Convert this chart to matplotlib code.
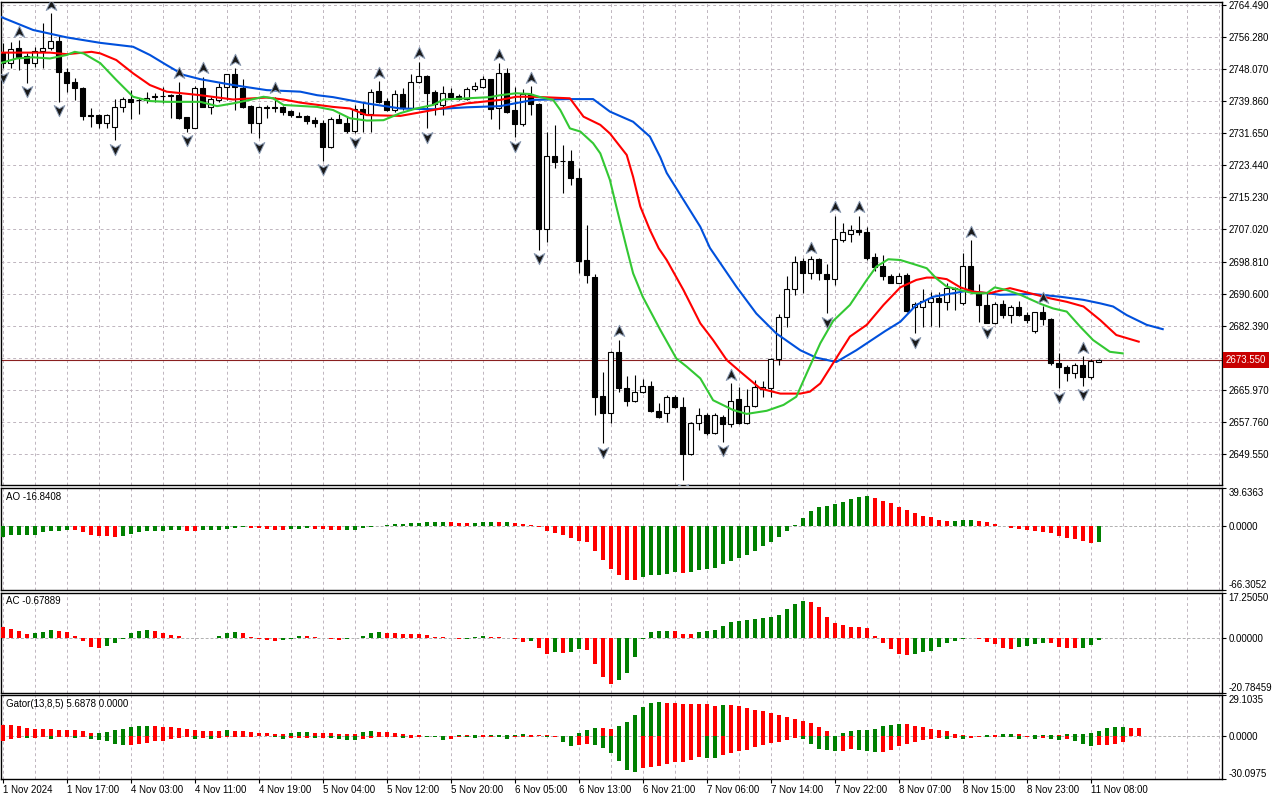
import numpy as np
import matplotlib
matplotlib.use("Agg")
from matplotlib import pyplot as plt
from matplotlib.path import Path
from matplotlib.transforms import blended_transform_factory

plt.rcParams['font.family'] = ['Liberation Sans', 'DejaVu Sans']
plt.rcParams['font.size'] = 7

# ---- XAUUSD H1 candles ----
opens = [2752.1, 2749.6, 2753.4, 2751.4, 2749.7, 2752.8, 2753.6, 2755.3, 2747.4, 2744.9,
         2743.2, 2736.4, 2736.3, 2734.2, 2733.3, 2738.3, 2740.4, 2740.2, 2740.2, 2741.0,
         2741.2, 2741.4, 2741.4, 2735.7, 2733.1, 2743.2, 2738.5, 2740.2, 2743.4, 2746.8,
         2743.2, 2738.6, 2734.2, 2738.5, 2738.3, 2738.3, 2737.3, 2736.0, 2736.1, 2735.0,
         2734.2, 2728.2, 2735.3, 2734.4, 2732.3, 2737.9, 2736.5, 2742.6, 2740.0, 2737.6,
         2741.6, 2738.0, 2744.8, 2746.3, 2742.1, 2738.8, 2741.9, 2741.2, 2740.4, 2742.9,
         2743.4, 2745.5, 2738.0, 2747.0, 2737.5, 2734.0, 2741.6, 2739.1, 2707.1, 2725.8,
         2724.6, 2724.6, 2720.1, 2699.2, 2694.9, 2664.4, 2660.0, 2675.7, 2666.4, 2663.2,
         2665.5, 2667.0, 2660.6, 2660.0, 2664.2, 2661.5, 2649.5, 2657.4, 2659.5, 2654.8,
         2659.1, 2657.1, 2663.5, 2657.6, 2661.8, 2666.3, 2666.4, 2673.9, 2684.5, 2691.9,
         2699.0, 2695.8, 2699.4, 2695.5, 2694.3, 2704.3, 2705.8, 2706.9, 2706.3, 2699.9,
         2697.7, 2695.2, 2693.4, 2695.4, 2687.3, 2687.3, 2688.5, 2689.6, 2688.5, 2691.9,
         2688.1, 2697.7, 2690.7, 2687.7, 2683.2, 2687.9, 2685.1, 2687.3, 2685.1, 2680.9,
         2685.8, 2684.0, 2672.9, 2671.9, 2670.4, 2672.3, 2669.3, 2673.2]
highs = [2754.8, 2755.1, 2755.5, 2752.1, 2753.8, 2759.8, 2762.4, 2756.8, 2748.3, 2745.7,
         2743.4, 2738.0, 2736.7, 2736.7, 2740.3, 2741.0, 2742.7, 2740.6, 2742.3, 2741.9,
         2743.6, 2741.7, 2744.9, 2735.9, 2743.7, 2746.1, 2741.0, 2744.4, 2746.8, 2748.3,
         2745.5, 2738.9, 2738.6, 2738.9, 2741.0, 2738.6, 2737.6, 2737.2, 2736.3, 2735.9,
         2735.0, 2735.9, 2736.7, 2735.9, 2738.9, 2739.7, 2742.9, 2745.0, 2740.6, 2742.7,
         2743.2, 2746.8, 2750.0, 2746.6, 2742.7, 2743.7, 2743.2, 2741.7, 2743.4, 2744.9,
         2746.3, 2745.6, 2749.6, 2748.3, 2743.4, 2742.9, 2743.7, 2739.3, 2732.1, 2733.8,
         2728.6, 2727.4, 2722.7, 2708.2, 2695.5, 2670.6, 2675.9, 2678.7, 2669.5, 2669.8,
         2668.7, 2668.1, 2662.5, 2664.6, 2664.6, 2664.1, 2657.8, 2661.2, 2660.0, 2660.0,
         2659.5, 2667.6, 2666.8, 2666.2, 2668.5, 2668.3, 2674.0, 2685.4, 2695.1, 2700.2,
         2699.7, 2700.2, 2699.6, 2698.2, 2710.5, 2708.8, 2708.2, 2710.5, 2707.7, 2700.9,
         2700.5, 2695.6, 2695.8, 2695.8, 2688.5, 2691.7, 2691.1, 2691.1, 2693.2, 2692.2,
         2701.1, 2704.2, 2693.1, 2690.7, 2688.5, 2689.0, 2687.7, 2688.8, 2686.0, 2686.0,
         2687.4, 2684.3, 2675.3, 2672.3, 2672.9, 2674.5, 2673.8, 2673.9]
lows = [2748.3, 2748.3, 2747.8, 2744.6, 2748.7, 2748.3, 2753.0, 2739.7, 2742.3, 2740.2,
        2735.0, 2733.3, 2732.9, 2733.1, 2729.9, 2737.0, 2735.2, 2736.7, 2739.3, 2739.7,
        2739.3, 2735.5, 2735.2, 2732.1, 2732.9, 2738.3, 2736.5, 2739.7, 2740.2, 2737.6,
        2738.0, 2731.8, 2730.4, 2735.5, 2737.2, 2736.3, 2735.7, 2735.7, 2734.0, 2733.3,
        2724.6, 2727.8, 2734.2, 2731.8, 2731.6, 2732.1, 2732.1, 2739.3, 2737.4, 2737.2,
        2737.6, 2737.6, 2744.4, 2732.9, 2736.3, 2736.3, 2740.2, 2740.2, 2740.2, 2742.6,
        2743.2, 2735.2, 2732.7, 2736.9, 2730.6, 2733.5, 2736.3, 2701.8, 2703.9, 2722.7,
        2716.4, 2718.4, 2695.8, 2693.3, 2659.5, 2652.3, 2657.6, 2665.5, 2661.7, 2662.9,
        2665.1, 2660.4, 2658.7, 2657.8, 2661.2, 2642.9, 2649.3, 2655.7, 2654.4, 2654.7,
        2652.7, 2656.5, 2657.2, 2657.2, 2661.5, 2664.2, 2664.2, 2672.3, 2682.1, 2690.2,
        2690.7, 2694.3, 2694.1, 2685.6, 2692.8, 2703.7, 2703.9, 2705.6, 2699.2, 2696.5,
        2694.1, 2693.2, 2693.2, 2686.0, 2680.4, 2682.0, 2682.2, 2682.0, 2686.4, 2686.4,
        2687.7, 2690.7, 2683.4, 2683.0, 2682.8, 2684.3, 2683.2, 2684.9, 2683.0, 2680.4,
        2682.6, 2672.3, 2666.4, 2668.1, 2668.9, 2667.0, 2668.7, 2673.1]
closes = [2749.6, 2753.1, 2751.3, 2749.6, 2752.8, 2753.6, 2755.3, 2747.3, 2744.6, 2743.2,
          2736.2, 2736.2, 2734.2, 2736.3, 2738.3, 2740.4, 2739.7, 2740.1, 2740.8, 2741.1,
          2741.3, 2741.3, 2735.5, 2733.1, 2743.2, 2738.5, 2740.5, 2743.4, 2746.7, 2743.6,
          2738.5, 2734.2, 2738.3, 2738.0, 2738.2, 2737.2, 2736.3, 2735.9, 2734.9, 2734.2,
          2728.2, 2735.2, 2734.4, 2732.3, 2737.9, 2736.5, 2742.3, 2739.7, 2737.6, 2741.6,
          2738.0, 2744.8, 2746.3, 2742.0, 2739.1, 2741.9, 2741.0, 2740.4, 2742.9, 2743.7,
          2745.5, 2737.9, 2747.0, 2737.2, 2734.0, 2741.6, 2739.1, 2707.1, 2725.8, 2724.4,
          2724.5, 2720.1, 2699.0, 2695.4, 2664.2, 2660.0, 2675.7, 2666.4, 2663.2, 2665.5,
          2667.0, 2660.6, 2658.9, 2664.2, 2661.5, 2649.5, 2657.4, 2659.4, 2654.8, 2659.5,
          2657.1, 2663.2, 2657.6, 2661.8, 2666.6, 2666.8, 2673.9, 2684.5, 2691.9, 2698.8,
          2695.8, 2699.4, 2695.8, 2694.3, 2704.5, 2706.3, 2706.9, 2706.3, 2699.8, 2697.5,
          2695.2, 2693.4, 2695.2, 2686.2, 2687.9, 2688.8, 2689.6, 2688.5, 2692.1, 2691.8,
          2697.7, 2691.5, 2687.6, 2683.2, 2687.9, 2685.1, 2687.3, 2685.1, 2683.8, 2685.8,
          2684.0, 2672.9, 2671.9, 2670.4, 2672.3, 2669.3, 2673.4, 2673.55]

# fractal bars
fractal_up = [2, 6, 22, 25, 29, 34, 47, 52, 62, 66, 77, 91, 101, 104, 107, 121, 130, 135]
fractal_down = [0, 3, 7, 14, 23, 32, 40, 44, 53, 64, 67, 75, 85, 90, 103, 114, 123, 132, 135]

# Alligator lines (bar position, price)
jaw_x = [-0.3, 3.8, 8.0, 12.2, 16.3, 18.4, 20.5, 22.6, 24.7, 28.8, 33.0, 37.2, 39.3, 41.3, 45.5,
         49.7, 53.8, 58.0, 62.2, 66.3, 70.5, 73.8, 75.9, 78.8, 80.9, 82.2, 83.0, 85.1, 87.2, 88.4,
         91.7, 94.2, 96.7, 99.7, 101.7, 104.2, 106.7, 110.3, 112.2, 114.2, 116.3, 120.5, 124.7,
         128.8, 132.2, 135.1, 137.2, 138.8, 140.5, 143.0, 145.0]
jaw_y = [2761.5, 2758.1, 2756.2, 2754.8, 2753.8, 2751.7, 2749.1, 2746.6, 2745.5, 2744.0, 2742.7,
         2742.3, 2741.4, 2740.9, 2739.3, 2738.0, 2737.8, 2738.3, 2738.6, 2740.2, 2740.4, 2740.4,
         2737.2, 2734.6, 2730.8, 2725.5, 2721.5, 2714.6, 2707.7, 2702.3, 2692.4, 2685.5, 2680.4,
         2676.1, 2674.2, 2673.1, 2676.1, 2681.0, 2683.4, 2687.7, 2689.8, 2691.3, 2690.3, 2690.5,
         2689.8, 2689.0, 2688.1, 2687.3, 2685.1, 2682.6, 2681.5]
teeth_x = [-0.3, 5.9, 8.0, 11.1, 12.2, 14.2, 16.3, 18.4, 20.5, 24.7, 28.8, 33.0, 35.1, 37.2, 41.3,
           43.4, 45.5, 49.7, 53.8, 58.0, 62.2, 64.2, 66.3, 70.9, 72.6, 74.7, 75.9, 78.0, 78.8, 79.7,
           80.9, 82.0, 83.0, 85.1, 87.2, 88.8, 90.5, 92.2, 94.7, 97.2, 99.7, 100.9, 102.2, 103.8,
           105.9, 108.0, 110.1, 112.2, 114.2, 115.5, 116.7, 118.0, 119.7, 121.3, 123.4, 125.9,
           128.8, 130.9, 133.0, 135.1, 137.2, 139.2, 142.0]
teeth_y = [2752.3, 2752.3, 2751.9, 2752.5, 2752.1, 2750.4, 2747.0, 2744.0, 2742.3, 2741.4, 2740.3,
           2740.8, 2740.3, 2739.5, 2738.4, 2738.0, 2736.3, 2736.1, 2737.6, 2739.3, 2740.2, 2741.0,
           2741.0, 2740.6, 2735.9, 2733.8, 2731.6, 2726.1, 2720.5, 2712.9, 2706.9, 2702.2, 2699.2,
           2691.5, 2683.0, 2678.7, 2673.6, 2670.6, 2666.3, 2665.0, 2665.0, 2665.5, 2667.6, 2672.8,
           2679.6, 2682.6, 2687.7, 2692.2, 2694.1, 2694.7, 2694.7, 2694.3, 2692.2, 2691.1, 2690.7,
           2692.0, 2690.5, 2689.4, 2688.5, 2687.3, 2683.8, 2680.0, 2678.3]
lips_x = [-0.3, 1.75, 3.8, 5.9, 8.0, 9.0, 10.1, 12.2, 14.2, 16.3, 18.4, 20.5, 24.7, 26.8, 28.8,
          30.9, 32.6, 33.8, 35.1, 39.3, 41.3, 43.4, 45.5, 47.6, 49.7, 51.7, 53.8, 55.1, 58.0, 60.9,
          62.2, 64.2, 65.9, 67.2, 68.8, 69.7, 70.9, 72.2, 73.8, 74.7, 75.9, 76.7, 78.0, 78.8, 80.0,
          82.2, 84.2, 85.5, 87.2, 88.8, 91.3, 93.0, 95.5, 97.6, 99.2, 100.5, 102.2, 103.8, 105.9,
          108.0, 109.2, 110.7, 112.2, 113.8, 115.5, 116.7, 118.0, 119.7, 121.3, 123.0, 124.0,
          125.5, 127.2, 129.7, 131.3, 133.0, 134.7, 136.3, 138.4, 140.0]
lips_y = [2749.6, 2750.8, 2751.1, 2750.8, 2751.7, 2752.5, 2752.1, 2749.6, 2745.3, 2741.0, 2739.9,
          2739.7, 2739.7, 2738.6, 2739.3, 2740.2, 2741.0, 2740.6, 2738.9, 2738.4, 2737.6, 2735.5,
          2734.9, 2735.0, 2736.8, 2738.0, 2738.9, 2740.3, 2740.6, 2740.9, 2741.4, 2741.9, 2741.7,
          2740.9, 2740.2, 2737.6, 2732.9, 2732.1, 2729.1, 2726.5, 2719.7, 2712.9, 2702.2, 2695.8,
          2689.8, 2681.3, 2674.0, 2671.9, 2668.9, 2663.3, 2660.8, 2659.8, 2660.6, 2662.1, 2664.2,
          2670.2, 2677.9, 2683.6, 2687.7, 2694.1, 2697.5, 2699.4, 2699.2, 2698.2, 2697.1, 2694.5,
          2692.4, 2691.5, 2690.7, 2690.7, 2692.2, 2691.5, 2690.3, 2688.0, 2686.8, 2686.0, 2682.1,
          2678.7, 2675.7, 2675.3]

# Awesome Oscillator
ao = [-11.3, -9.6, -8.9, -8.8, -8.7, -6.5, -4.8, -4.7, -3.8, -3.9,
      -6.2, -8.9, -9.9, -10.6, -11.7, -10.6, -8.2, -6.5, -5.5, -4.8,
      -4.7, -4.5, -3.8, -4.8, -4.9, -4.5, -4.4, -4.3, -2.7, -1.4,
      -1.3, -1.4, -1.5, -2.7, -3.8, -3.9, -2.7, -2.6, -2.0, -2.7,
      -3.1, -3.8, -3.9, -3.8, -3.7, -1.4, -0.7, -0.1, 1.0, 2.1,
      2.7, 3.1, 3.4, 4.5, 4.6, 4.7, 4.5, 3.4, 3.1, 3.4,
      4.1, 4.5, 4.4, 4.6, 3.1, 2.1, 1.0, -0.7, -5.5, -7.2,
      -9.6, -12.7, -15.1, -16.8, -26.1, -35.3, -44.2, -50.7, -55.9, -56.0,
      -52.4, -51.1, -51.0, -50.0, -48.0, -48.3, -47.9, -45.6, -44.2, -43.2,
      -39.8, -35.7, -32.9, -29.5, -25.4, -20.9, -16.8, -11.7, -5.5, 1.0,
      8.6, 15.8, 19.5, 21.3, 23.0, 25.4, 27.8, 30.2, 31.2, 28.8,
      26.4, 23.7, 19.9, 16.5, 13.4, 11.0, 9.3, 6.5, 5.5, 5.6,
      6.5, 6.9, 5.5, 4.5, 2.4, -0.2, -1.4, -3.1, -4.5, -5.5,
      -6.5, -7.2, -10.6, -12.7, -13.4, -15.8, -17.6, -16.84]

# Accelerator Oscillator
ac = [4.2, 3.5, 2.8, 1.65, 2.0, 2.4, 3.2, 2.8, 2.5, 0.9,
      -0.9, -3.2, -3.5, -2.8, -1.6, -0.1, 2.2, 2.8, 3.2, 2.8,
      1.9, 1.3, 0.9, 0.25, 0.05, -0.05, 0.25, 0.9, 2.2, 2.4,
      1.9, 0.6, -0.25, -0.6, -0.9, -0.6, -0.1, 0.9, 0.8, 0.5,
      0.1, -0.25, -0.5, -0.25, 0.25, 0.9, 1.9, 2.4, 2.2, 1.9,
      1.65, 1.6, 1.5, 1.3, 0.6, 0.4, 0.0, -0.4, -0.1, 0.4,
      0.9, 0.4, 0.35, 0.25, -0.4, -1.3, -0.9, -3.5, -6.0, -5.3,
      -5.45, -5.2, -4.2, -4.4, -9.8, -14.6, -17.4, -15.8, -13.1, -7.0,
      -0.3, 2.4, 2.8, 2.85, 2.7, 1.65, 1.6, 2.4, 2.8, 3.2,
      4.8, 6.3, 6.7, 7.0, 7.35, 7.6, 8.0, 8.9, 11.2, 12.9,
      14.2, 13.8, 12.0, 8.2, 5.7, 5.1, 4.3, 4.25, 4.0, 0.9,
      -1.9, -4.2, -6.0, -6.2, -6.1, -5.2, -4.8, -3.2, -1.9, -1.0,
      -0.1, 0.2, -0.1, -1.3, -2.2, -3.5, -4.2, -3.2, -2.8, -2.2,
      -1.65, -1.9, -3.2, -3.5, -3.8, -3.6, -2.4, -0.68]

# Gator oscillator (upper histogram, and size of the lower one)
gator_up = [8.2, 7.8, 7.0, 5.9, 5.4, 5.2, 5.1, 4.7, 4.6, 4.2,
            3.5, 2.3, 2.4, 3.1, 4.7, 5.4, 6.8, 7.3, 7.35, 7.2,
            6.6, 6.3, 5.6, 5.2, 4.5, 4.0, 3.95, 3.9, 4.7, 4.0,
            3.5, 3.1, 2.3, 2.2, 1.6, 1.5, 2.3, 3.1, 3.15, 2.3,
            2.25, 2.2, 1.9, 1.6, 1.5, 3.1, 4.0, 3.1, 3.0, 2.3,
            1.6, 1.2, 0.6, 0.2, 0.25, 0.15, 0.1, 0.7, 0.65, 0.7,
            0.65, 0.7, 0.75, 0.8, 0.85, 1.6, 0.8, 0.7, 0.6, 0.1,
            0.05, 0.0, 2.3, 4.5, 5.9, 5.85, 5.2, 7.3, 10.1, 15.0,
            20.7, 23.5, 24.2, 23.5, 23.4, 22.8, 22.7, 22.6, 22.5, 21.1,
            22.1, 22.0, 21.1, 20.0, 18.6, 17.9, 16.4, 15.0, 13.6, 12.2,
            10.6, 9.4, 6.6, 3.8, 0.3, 2.3, 4.0, 4.7, 4.75, 5.4,
            7.0, 8.0, 8.9, 8.7, 7.5, 6.6, 5.4, 4.5, 3.8, 1.6,
            0.9, 0.1, 0.05, 0.7, 0.6, 1.6, 1.65, 1.6, 0.5, 0.7,
            0.75, 0.8, 0.7, 1.6, 1.65, 1.7, 2.3, 3.8, 5.9, 6.6,
            6.65, 5.9, 5.69]
gator_down = [3.1, 1.6, 1.2, 1.3, 0.9, 0.7, 1.6, 0.8, 0.6, 1.0,
              0.4, 1.6, 2.3, 3.5, 5.4, 6.3, 5.9, 5.2, 4.7, 3.5,
              3.0, 2.2, 1.5, 0.8, 1.6, 1.2, 1.6, 1.0, 0.5, 0.3,
              0.25, 0.2, 0.1, 0.05, 0.8, 1.6, 1.2, 1.0, 0.9, 1.2,
              1.0, 1.2, 1.6, 2.3, 2.4, 1.6, 1.0, 0.7, 0.5, 0.3,
              1.2, 1.0, 0.6, 0.7, 0.75, 2.3, 1.6, 0.7, 0.8, 0.85,
              0.7, 0.6, 0.7, 1.6, 0.7, 0.3, 0.2, 0.1, 0.7, 0.2,
              4.0, 7.0, 5.9, 5.4, 5.9, 8.2, 11.7, 17.1, 23.5, 25.1,
              22.3, 21.4, 20.7, 19.3, 18.1, 18.0, 16.4, 14.3, 15.3, 15.35,
              12.9, 11.7, 10.1, 9.4, 7.5, 5.9, 4.7, 4.0, 2.3, 1.2,
              1.6, 5.4, 8.7, 9.4, 10.3, 10.1, 8.7, 9.4, 10.6, 11.0,
              10.8, 9.4, 6.6, 5.2, 4.0, 2.3, 1.9, 1.0, 1.6, 1.0,
              1.6, 1.0, 0.3, 0.7, 0.3, 0.7, 0.75, 1.6, 0.7, 1.6,
              1.5, 1.6, 2.3, 2.2, 3.1, 5.4, 6.6, 5.9, 5.85, 5.2,
              4.2]

# axis labels
price_ticks = [2764.490, 2756.280, 2748.070, 2739.860, 2731.650, 2723.440, 2715.230,
               2707.020, 2698.810, 2690.600, 2682.390, 2674.180, 2665.970, 2657.760, 2649.550]
last_price = 2673.55
time_pos = list(range(0, 137, 8))
time_labels = ["1 Nov 2024", "1 Nov 17:00", "4 Nov 03:00", "4 Nov 11:00", "4 Nov 19:00",
               "5 Nov 04:00", "5 Nov 12:00", "5 Nov 20:00", "6 Nov 05:00", "6 Nov 13:00",
               "6 Nov 21:00", "7 Nov 06:00", "7 Nov 14:00", "7 Nov 22:00", "8 Nov 07:00",
               "8 Nov 15:00", "8 Nov 23:00", "11 Nov 08:00"]

GREEN = '#008000'
RED = '#ff0000'
GRID = '#bfb5bf'


def up_down_colors(vals, first):
    cols = [first]
    for a, b in zip(vals[:-1], vals[1:]):
        cols.append(GREEN if b > a else RED)
    return cols


opens = np.array(opens); highs = np.array(highs)
lows = np.array(lows); closes = np.array(closes)
idx = np.arange(len(opens))

W, H = 1280.0, 800.0
fig = plt.figure(figsize=(12.8, 8), dpi=100)


def box(top, bottom, left=1, right=1222):
    return [left / W, 1 - bottom / H, (right - left) / W, (bottom - top) / H]


ax = fig.add_axes(box(2, 485))
ao_ax = fig.add_axes(box(488, 590))
ac_ax = fig.add_axes(box(593, 693))
gt_ax = fig.add_axes(box(695, 779))

for a in (ax, ao_ax, ac_ax, gt_ax):
    a.set_xlim(-0.2125, 152.41)
    a.set_xticks([])
    a.yaxis.tick_right()
    a.tick_params(axis='y', length=3, width=0.8, pad=1.5, labelsize=7)
    for s in a.spines.values():
        s.set_linewidth(1.0)
    for gx in range(0, 153, 4):
        a.axvline(gx, color=GRID, lw=0.7, ls=(0, (3, 3)), zorder=0)

# ---- main chart ----
ax.set_ylim(2641.60, 2765.26)
for p in price_ticks:
    ax.axhline(p, color=GRID, lw=0.7, ls=(0, (3, 3)), zorder=0)
ax.set_yticks(price_ticks, ["%.3f" % p if abs(p - 2674.18) > 0.01 else "" for p in price_ticks])

ax.axhline(last_price, color='#8a2020', lw=0.8, zorder=1)

bull = closes >= opens
body_lo = np.minimum(opens, closes)
body_h = np.maximum(np.abs(closes - opens), 0.12)
ax.vlines(idx, lows, highs, color='black', linewidth=0.8, zorder=3)
ax.bar(idx, body_h, bottom=body_lo, width=0.6,
       color=np.where(bull, 'white', 'black'), edgecolor='black', linewidth=0.8, zorder=4)

ax.plot(jaw_x, jaw_y, color='#0050dc', lw=1.5, zorder=5)
ax.plot(teeth_x, teeth_y, color='#ff0000', lw=1.5, zorder=5)
ax.plot(lips_x, lips_y, color='#33c833', lw=1.5, zorder=5)

arrow_up = Path([(0, 1), (0.85, -0.8), (0, -0.3), (-0.85, -0.8), (0, 1)],
                [Path.MOVETO, Path.LINETO, Path.LINETO, Path.LINETO, Path.CLOSEPOLY])
arrow_dn = Path([(0, -1), (0.85, 0.8), (0, 0.3), (-0.85, 0.8), (0, -1)],
                [Path.MOVETO, Path.LINETO, Path.LINETO, Path.LINETO, Path.CLOSEPOLY])
ax.plot(fractal_up, highs[fractal_up] + 2.2, ls='none', marker=arrow_up, ms=9,
        mfc='#1a1a1a', mec='#8c9cb4', mew=0.7, zorder=6)
ax.plot(fractal_down, lows[fractal_down] - 2.2, ls='none', marker=arrow_dn, ms=9,
        mfc='#1a1a1a', mec='#8c9cb4', mew=0.7, zorder=6)

tr = blended_transform_factory(ax.transAxes, ax.transData)
ax.text(1.0 + 4 / 1221, last_price, "2673.550", transform=tr, ha='left', va='center',
        color='white', fontsize=7, clip_on=False, zorder=10,
        bbox=dict(boxstyle='square,pad=0.3', fc='#c80000', ec='none'))

# ---- AO ----
ao_ax.set_ylim(-66.3052, 39.6363)
ao_ax.axhline(0, color='#b0b0b0', lw=0.7, ls=(0, (3, 2)), zorder=0)
ao_ax.bar(idx, ao, width=0.55, color=up_down_colors(ao, GREEN), zorder=3)
ao_ax.set_yticks([39.6363, 0, -66.3052], ["39.6363", "0.0000", "-66.3052"])
ao_ax.text(0.004, 0.913, "AO -16.8408", transform=ao_ax.transAxes, va='center', fontsize=7)

# ---- AC ----
ac_ax.set_ylim(-20.78459, 17.25050)
ac_ax.axhline(0, color='#b0b0b0', lw=0.7, ls=(0, (3, 2)), zorder=0)
ac_ax.bar(idx, ac, width=0.55, color=up_down_colors(ac, RED), zorder=3)
ac_ax.set_yticks([17.2505, 0, -20.78459], ["17.25050", "0.00000", "-20.78459"])
ac_ax.text(0.004, 0.92, "AC -0.67889", transform=ac_ax.transAxes, va='center', fontsize=7)

# ---- Gator ----
gt_ax.set_ylim(-30.0975, 29.1035)
gt_ax.axhline(0, color='#b0b0b0', lw=0.7, ls=(0, (3, 2)), zorder=0)
gt_ax.bar(np.arange(len(gator_up)), gator_up, width=0.55,
          color=up_down_colors(gator_up, RED), zorder=3)
gt_ax.bar(np.arange(len(gator_down)), -np.array(gator_down), width=0.55,
          color=up_down_colors(gator_down, RED), zorder=3)
gt_ax.set_yticks([29.1035, 0, -30.0975], ["29.1035", "0.0000", "-30.0975"])
gt_ax.text(0.004, 0.893, "Gator(13,8,5) 5.6878 0.0000", transform=gt_ax.transAxes,
           va='center', fontsize=7)

for a in (ao_ax, ac_ax, gt_ax):
    labs = a.get_yticklabels()
    labs[0].set_verticalalignment('top')
    labs[2].set_verticalalignment('bottom')

gt_ax.set_xticks(time_pos, time_labels)
gt_ax.tick_params(axis='x', length=3, width=0.8, pad=1, labelsize=7)
for lbl in gt_ax.get_xticklabels():
    lbl.set_horizontalalignment('left')

fig.savefig("out.png", dpi=100, facecolor='white')
